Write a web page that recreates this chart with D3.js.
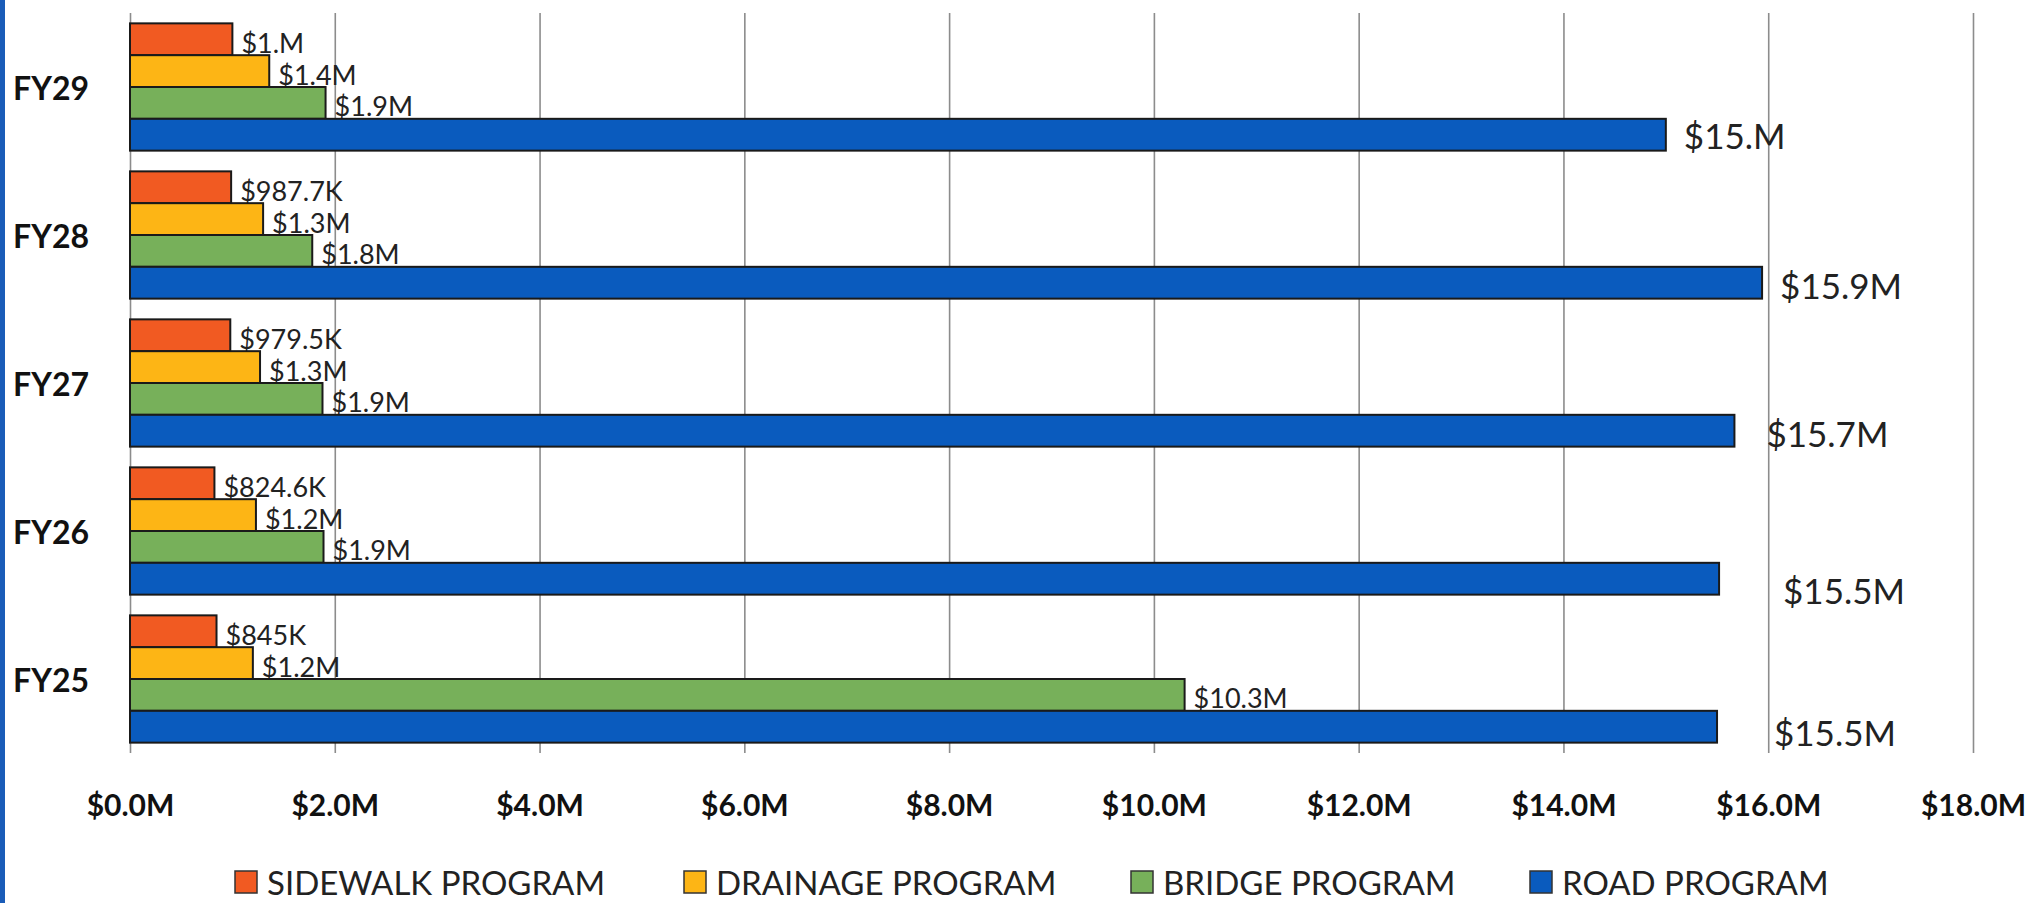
<!DOCTYPE html>
<html>
<head>
<meta charset="utf-8">
<script src="https://cdn.jsdelivr.net/npm/d3@7"></script>
<style>
  html, body { margin: 0; padding: 0; background: #fff; }
  svg { display: block; }
</style>
</head>
<body>
<svg id="chart" width="2043" height="903"></svg>
<script>
// ---- data ----
const categories = ["FY29", "FY28", "FY27", "FY26", "FY25"];
const seriesNames = ["SIDEWALK PROGRAM", "DRAINAGE PROGRAM", "BRIDGE PROGRAM", "ROAD PROGRAM"];
const sidewalk = [1.0e6, 987.7e3, 979.5e3, 824.6e3, 845e3];
const drainage = [1.36e6, 1.3e6, 1.27e6, 1.23e6, 1.2e6];
const bridge   = [1.91e6, 1.78e6, 1.88e6, 1.89e6, 10.3e6];
const road     = [15.0e6, 15.94e6, 15.67e6, 15.52e6, 15.5e6];
const sidewalkLabels = ["$1.M", "$987.7K", "$979.5K", "$824.6K", "$845K"];
const drainageLabels = ["$1.4M", "$1.3M", "$1.3M", "$1.2M", "$1.2M"];
const bridgeLabels   = ["$1.9M", "$1.8M", "$1.9M", "$1.9M", "$10.3M"];
const roadLabels     = ["$15.M", "$15.9M", "$15.7M", "$15.5M", "$15.5M"];
const tickValues = [0, 2e6, 4e6, 6e6, 8e6, 10e6, 12e6, 14e6, 16e6, 18e6];
const tickLabels = ["$0.0M", "$2.0M", "$4.0M", "$6.0M", "$8.0M", "$10.0M", "$12.0M", "$14.0M", "$16.0M", "$18.0M"];

// ---- style / layout ----
const colors = ["#F15A22", "#FDB515", "#77B05A", "#0A5BBE"];
const roadLabelDx = [18, 18, 32, 64, 57];   // manual label placement in the original
const roadLabelDy = [0, 2, 2, 11, 5];
const FONT = "Lato, 'Open Sans', sans-serif";

const svg = d3.select("#chart");
const W = 2043, H = 903;
const mLeft = 130, mRight = 1973, mTop = 13, mBottom = 753;

const x = d3.scaleLinear().domain([0, 18e6]).range([mLeft, mRight]);
const y = d3.scaleBand().domain(categories).range([mTop, mBottom]).paddingInner(0.14).paddingOuter(0.07);
const ys = d3.scaleBand().domain(d3.range(4)).range([0, y.bandwidth()]).padding(0);

// left blue border
svg.append("rect").attr("x", 0).attr("y", 0).attr("width", 5).attr("height", H).attr("fill", "#1a5cb8");

// gridlines via axis
const gridAxis = d3.axisBottom(x).tickValues(tickValues).tickSize(-(mBottom - mTop)).tickFormat("");
const g = svg.append("g").attr("transform", `translate(0,${mBottom})`).call(gridAxis);
g.select(".domain").remove();
g.selectAll(".tick line").attr("stroke", "#8c8c8c").attr("stroke-width", 1.6);

// tick labels via axis
const labelAxis = d3.axisBottom(x).tickValues(tickValues).tickSize(0)
  .tickFormat((d, i) => tickLabels[i]);
const la = svg.append("g").attr("transform", `translate(0,805)`).call(labelAxis);
la.select(".domain").remove();
la.selectAll("text").attr("font-family", FONT).attr("font-weight", "bold")
  .attr("font-size", 30).attr("fill", "#111").attr("y", 0).attr("dy", "0.36em");

// category labels
svg.append("g").selectAll("text").data(categories).join("text")
  .attr("x", 89).attr("y", d => y(d) + y.bandwidth() / 2)
  .attr("text-anchor", "end").attr("dominant-baseline", "central")
  .attr("font-family", FONT).attr("font-weight", "bold").attr("font-size", 32)
  .attr("fill", "#111").text(d => d);

// bars
const series = [sidewalk, drainage, bridge, road];
const labels = [sidewalkLabels, drainageLabels, bridgeLabels, roadLabels];
series.forEach((vals, si) => {
  const gg = svg.append("g");
  gg.selectAll("rect").data(vals).join("rect")
    .attr("x", x(0))
    .attr("y", (d, i) => y(categories[i]) + ys(si))
    .attr("width", d => x(d) - x(0))
    .attr("height", ys.bandwidth())
    .attr("fill", colors[si])
    .attr("stroke", "#1a1a1a").attr("stroke-width", 2);
  gg.selectAll("text").data(vals).join("text")
    .attr("x", (d, i) => x(d) + (si === 3 ? roadLabelDx[i] : 9))
    .attr("y", (d, i) => y(categories[i]) + ys(si) + ys.bandwidth() / 2 + (si === 3 ? roadLabelDy[i] : 3))
    .attr("dominant-baseline", "central")
    .attr("font-family", FONT).attr("font-size", si === 3 ? 35 : 27)
    .attr("fill", "#222")
    .text((d, i) => labels[si][i]);
});

// legend
const legendX = [235, 684, 1131, 1530];
const lg = svg.append("g");
seriesNames.forEach((n, i) => {
  lg.append("rect").attr("x", legendX[i]).attr("y", 871).attr("width", 22).attr("height", 22)
    .attr("fill", colors[i]).attr("stroke", "#333").attr("stroke-width", 1.5);
  lg.append("text").attr("x", legendX[i] + 32).attr("y", 882)
    .attr("dominant-baseline", "central")
    .attr("font-family", FONT).attr("font-size", 33).attr("fill", "#222").text(n);
});
</script>
</body>
</html>
